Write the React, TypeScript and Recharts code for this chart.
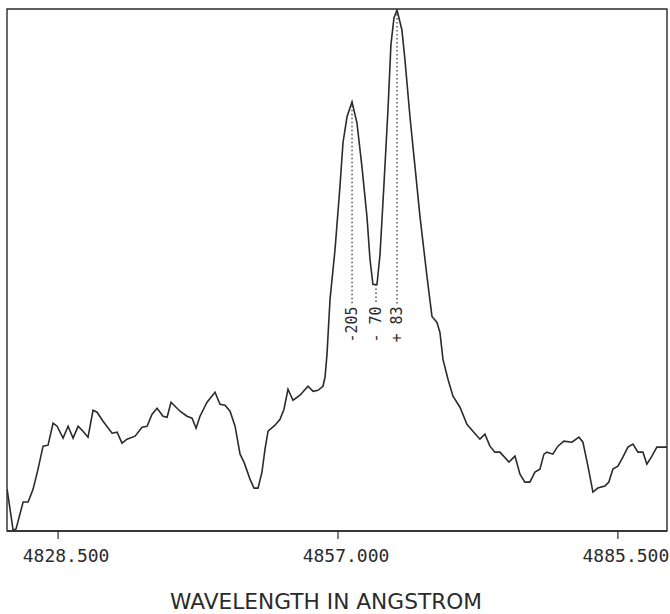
import React from 'react';
import {
  LineChart,
  Line,
  XAxis,
  YAxis,
  ReferenceArea,
  ReferenceLine,
  ReferenceDot,
} from 'recharts';

// wavelength (Å) of each sample
const wavelengths = [
  4823.31, 4823.92, 4824.22, 4824.94, 4825.45, 4825.96, 4826.46, 4826.97, 4827.48, 4827.99,
  4828.4, 4829.01, 4829.52, 4830.03, 4830.54, 4831.04, 4831.55, 4832.06, 4832.47, 4833.08,
  4834.0, 4834.51, 4835.01, 4835.52, 4836.34, 4837.05, 4837.56, 4838.07, 4838.58, 4839.19,
  4839.6, 4840.0, 4840.92, 4841.63, 4842.14, 4842.55, 4842.95, 4843.67, 4844.48, 4844.99,
  4845.5, 4846.01, 4846.52, 4847.03, 4847.43, 4848.04, 4848.45, 4848.86, 4849.26, 4849.57,
  4849.88, 4850.59, 4851.1, 4851.5, 4851.91, 4852.42, 4853.13, 4853.95, 4854.46, 4854.96,
  4855.47, 4855.68, 4855.88, 4856.19, 4856.7, 4857.2, 4857.51, 4857.92, 4858.43, 4858.93,
  4859.44, 4859.95, 4860.26, 4860.56, 4860.97, 4861.28, 4861.68, 4862.09, 4862.39, 4862.7,
  4863.01, 4863.51, 4863.82, 4864.33, 4864.84, 4865.35, 4866.06, 4866.57, 4867.08, 4867.38,
  4867.69, 4868.2, 4868.71, 4869.42, 4870.13, 4870.74, 4871.45, 4871.96, 4872.47, 4872.98,
  4873.49, 4874.41, 4875.02, 4875.53, 4876.03, 4876.54, 4877.05, 4877.56, 4877.97, 4878.27,
  4878.88, 4879.39, 4880.0, 4880.82, 4881.53, 4881.94, 4882.45, 4882.96, 4883.46, 4884.18,
  4884.58, 4884.99, 4885.5, 4886.01, 4886.52, 4887.03, 4887.54, 4888.05, 4888.45, 4888.96,
  4889.47, 4890.49,
];

// relative intensity
const intensity = [
  0.42, 0.01, 0.02, 0.29, 0.29, 0.42, 0.62, 0.85, 0.86, 1.08,
  1.05, 0.93, 1.05, 0.93, 1.05, 1.0, 0.94, 1.21, 1.19, 1.1,
  0.98, 0.99, 0.88, 0.92, 0.95, 1.04, 1.05, 1.17, 1.23, 1.15,
  1.14, 1.29, 1.2, 1.15, 1.13, 1.03, 1.15, 1.29, 1.39, 1.27,
  1.26, 1.2, 1.05, 0.77, 0.69, 0.52, 0.43, 0.43, 0.59, 0.82,
  1.0, 1.06, 1.12, 1.22, 1.42, 1.31, 1.36, 1.45, 1.4, 1.41,
  1.45, 1.54, 1.77, 2.32, 2.82, 3.45, 3.89, 4.15, 4.3, 4.09,
  3.65, 3.15, 2.72, 2.47, 2.47, 2.77, 3.47, 4.22, 4.87, 5.14,
  5.22, 5.02, 4.72, 4.15, 3.65, 3.15, 2.55, 2.15, 2.09, 1.99,
  1.72, 1.52, 1.35, 1.24, 1.07, 1.0, 0.92, 0.97, 0.85, 0.79,
  0.79, 0.69, 0.75, 0.57, 0.49, 0.49, 0.59, 0.62, 0.77, 0.79,
  0.77, 0.85, 0.9, 0.89, 0.94, 0.89, 0.65, 0.39, 0.43, 0.45,
  0.49, 0.62, 0.65, 0.74, 0.84, 0.87, 0.79, 0.79, 0.67, 0.75,
  0.84, 0.84,
];

const xTicks = [4828.5, 4857.0, 4885.5];

// velocity marks (km/s) on the line components
const markLabels = ['-205', '- 70', '+ 83'];
const markWavelengths = [4858.43, 4860.87, 4863.01];
const markTops = [4.3, 2.47, 5.22];
const markBottom = 2.27;

const X_DOMAIN: [number, number] = [4823.3, 4890.5];
const Y_DOMAIN: [number, number] = [0, 5.23];
const INK = '#2b2b2b';

const data = wavelengths.map((w, i) => ({ lambda: w, flux: intensity[i] }));

const WaveTick = ({ x, y, payload }: any) => (
  <text
    x={x + 8}
    y={y}
    dy="0.71em"
    textAnchor="middle"
    fontFamily="DejaVu Sans Mono"
    fontSize={18}
    fill={INK}
  >
    {Number(payload.value).toFixed(3)}
  </text>
);

const AxisTitle = ({ viewBox }: any) => {
  const vb = viewBox || { x: 7, y: 531, width: 660, height: 83 };
  return (
    <text
      x={vb.x + vb.width / 2 - 11}
      y={vb.y + 78}
      textAnchor="middle"
      fontFamily="DejaVu Sans"
      fontSize={21}
      textLength={312}
      lengthAdjust="spacingAndGlyphs"
      fill={INK}
    >
      WAVELENGTH IN ANGSTROM
    </text>
  );
};

const markLabel = (text: string) => ({ viewBox }: any) => {
  const cx = viewBox.x + (viewBox.width || 0) / 2;
  const cy = viewBox.y + (viewBox.height || 0) / 2 + 2;
  return (
    <text
      x={cx}
      y={cy}
      transform={`rotate(-90, ${cx}, ${cy})`}
      textAnchor="end"
      dominantBaseline="central"
      fontFamily="DejaVu Sans Mono"
      fontSize={15}
      fill={INK}
    >
      {text}
    </text>
  );
};

export default function App() {
  return (
    <div style={{ position: 'absolute', left: 0, top: 0, background: '#fff' }}>
      <LineChart
        width={670}
        height={614}
        data={data}
        margin={{ top: 9, right: 3, left: 7, bottom: 0 }}
      >
        <XAxis
          dataKey="lambda"
          type="number"
          domain={X_DOMAIN}
          allowDataOverflow
          ticks={xTicks}
          tick={<WaveTick />}
          tickSize={8}
          tickMargin={10}
          tickLine={{ stroke: INK, strokeWidth: 1.2 }}
          axisLine={{ stroke: INK, strokeWidth: 1.4 }}
          height={83}
          label={<AxisTitle />}
        />
        <YAxis hide type="number" domain={Y_DOMAIN} allowDataOverflow />
        <ReferenceArea
          x1={X_DOMAIN[0]}
          x2={X_DOMAIN[1]}
          y1={Y_DOMAIN[0]}
          y2={Y_DOMAIN[1]}
          fill="none"
          stroke={INK}
          strokeWidth={1.4}
          ifOverflow="visible"
        />
        {markWavelengths.map((w, i) => (
          <ReferenceLine
            key={`mark-${i}`}
            segment={[
              { x: w, y: markTops[i] },
              { x: w, y: markBottom },
            ]}
            stroke={INK}
            strokeWidth={1.2}
            strokeDasharray="1.5 2.5"
          />
        ))}
        {markWavelengths.map((w, i) => (
          <ReferenceDot
            key={`label-${i}`}
            x={w}
            y={markBottom}
            r={0}
            fill="none"
            stroke="none"
            label={markLabel(markLabels[i])}
          />
        ))}
        <Line
          type="linear"
          dataKey="flux"
          stroke={INK}
          strokeWidth={1.6}
          dot={false}
          isAnimationActive={false}
        />
      </LineChart>
    </div>
  );
}
